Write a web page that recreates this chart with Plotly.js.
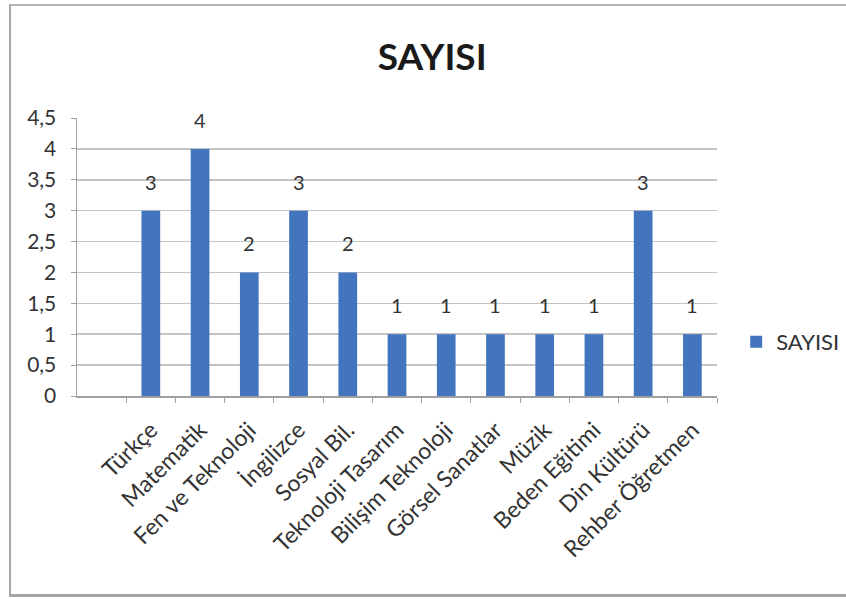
<!DOCTYPE html>
<html>
<head>
<meta charset="utf-8">
<script src="https://cdn.plot.ly/plotly-3.0.1.min.js"></script>
<style>
  html, body { margin: 0; padding: 0; background: #ffffff; }
  #chart { position: absolute; left: 0; top: 0; width: 846px; height: 599px; }
  #frame { position: absolute; left: 9px; top: 4px; width: 850px; height: 588px;
           border-left: 2px solid #a6a6a6; border-top: 2px solid #b5b5b5; border-bottom: 3px solid #a6a6a6;
           pointer-events: none; }
</style>
</head>
<body>
<div id="chart"></div>
<div id="frame"></div>
<script>
const categories = ["Türkçe", "Matematik", "Fen ve Teknoloji", "İngilizce", "Sosyal Bil.",
  "Teknoloji Tasarım", "Bilişim Teknoloji", "Görsel Sanatlar", "Müzik", "Beden Eğitimi",
  "Din Kültürü", "Rehber Öğretmen"];
const values = [3, 4, 2, 3, 2, 1, 1, 1, 1, 1, 3, 1];
const seriesName = "SAYISI";
const titleText = "SAYISI";

const barColor = "#4275be";
const FONT = "Lato, 'DejaVu Sans', sans-serif";
const textFont = { family: FONT, size: 20, color: "#333333" };

const trace = {
  type: "bar",
  x: categories,
  y: values,
  name: seriesName,
  marker: { color: barColor },
  showlegend: true
};

const annotations = categories.map((c, i) => ({
  x: c, y: values[i], xref: "x", yref: "y",
  text: String(values[i]), showarrow: false,
  yanchor: "middle", yshift: 29,
  font: textFont
}));

const layout = {
  width: 846, height: 599,
  margin: { l: 77, r: 129, t: 118, b: 203, autoexpand: false },
  paper_bgcolor: "rgba(0,0,0,0)",
  plot_bgcolor: "#ffffff",
  separators: ", ",
  bargap: 0.62,
  title: {
    text: "<b>" + titleText + "</b>",
    font: { family: FONT, size: 37, color: "#1a1a1a" },
    xref: "paper", x: 0.555, xanchor: "center",
    yref: "container", y: 0.905, yanchor: "middle"
  },
  xaxis: {
    type: "category",
    range: [-1.5, 11.5],
    tickangle: -45,
    tickson: "boundaries",
    ticks: "outside", ticklen: 5, tickcolor: "#a0a0a0",
    ticklabelstandoff: 10,
    showline: true, linecolor: "#a0a0a0", linewidth: 1.5,
    showgrid: false,
    tickfont: { family: FONT, size: 23, color: "#333333" }
  },
  yaxis: {
    range: [0, 4.5], dtick: 0.5, tick0: 0,
    showgrid: true, gridcolor: "#c4c4c4", gridwidth: 1.5,
    showline: true, linecolor: "#a0a0a0", linewidth: 1.5,
    ticks: "outside", ticklen: 5, tickcolor: "#a0a0a0",
    ticklabelstandoff: 10,
    zeroline: false,
    tickfont: { family: FONT, size: 21, color: "#333333" }
  },
  legend: {
    x: 1.03, xanchor: "left", y: 0.194, yanchor: "middle",
    font: { family: FONT, size: 22, color: "#333333" },
    itemwidth: 30
  },
  annotations: annotations
};

Plotly.newPlot("chart", [trace], layout, { displayModeBar: false, staticPlot: true });
</script>
</body>
</html>
